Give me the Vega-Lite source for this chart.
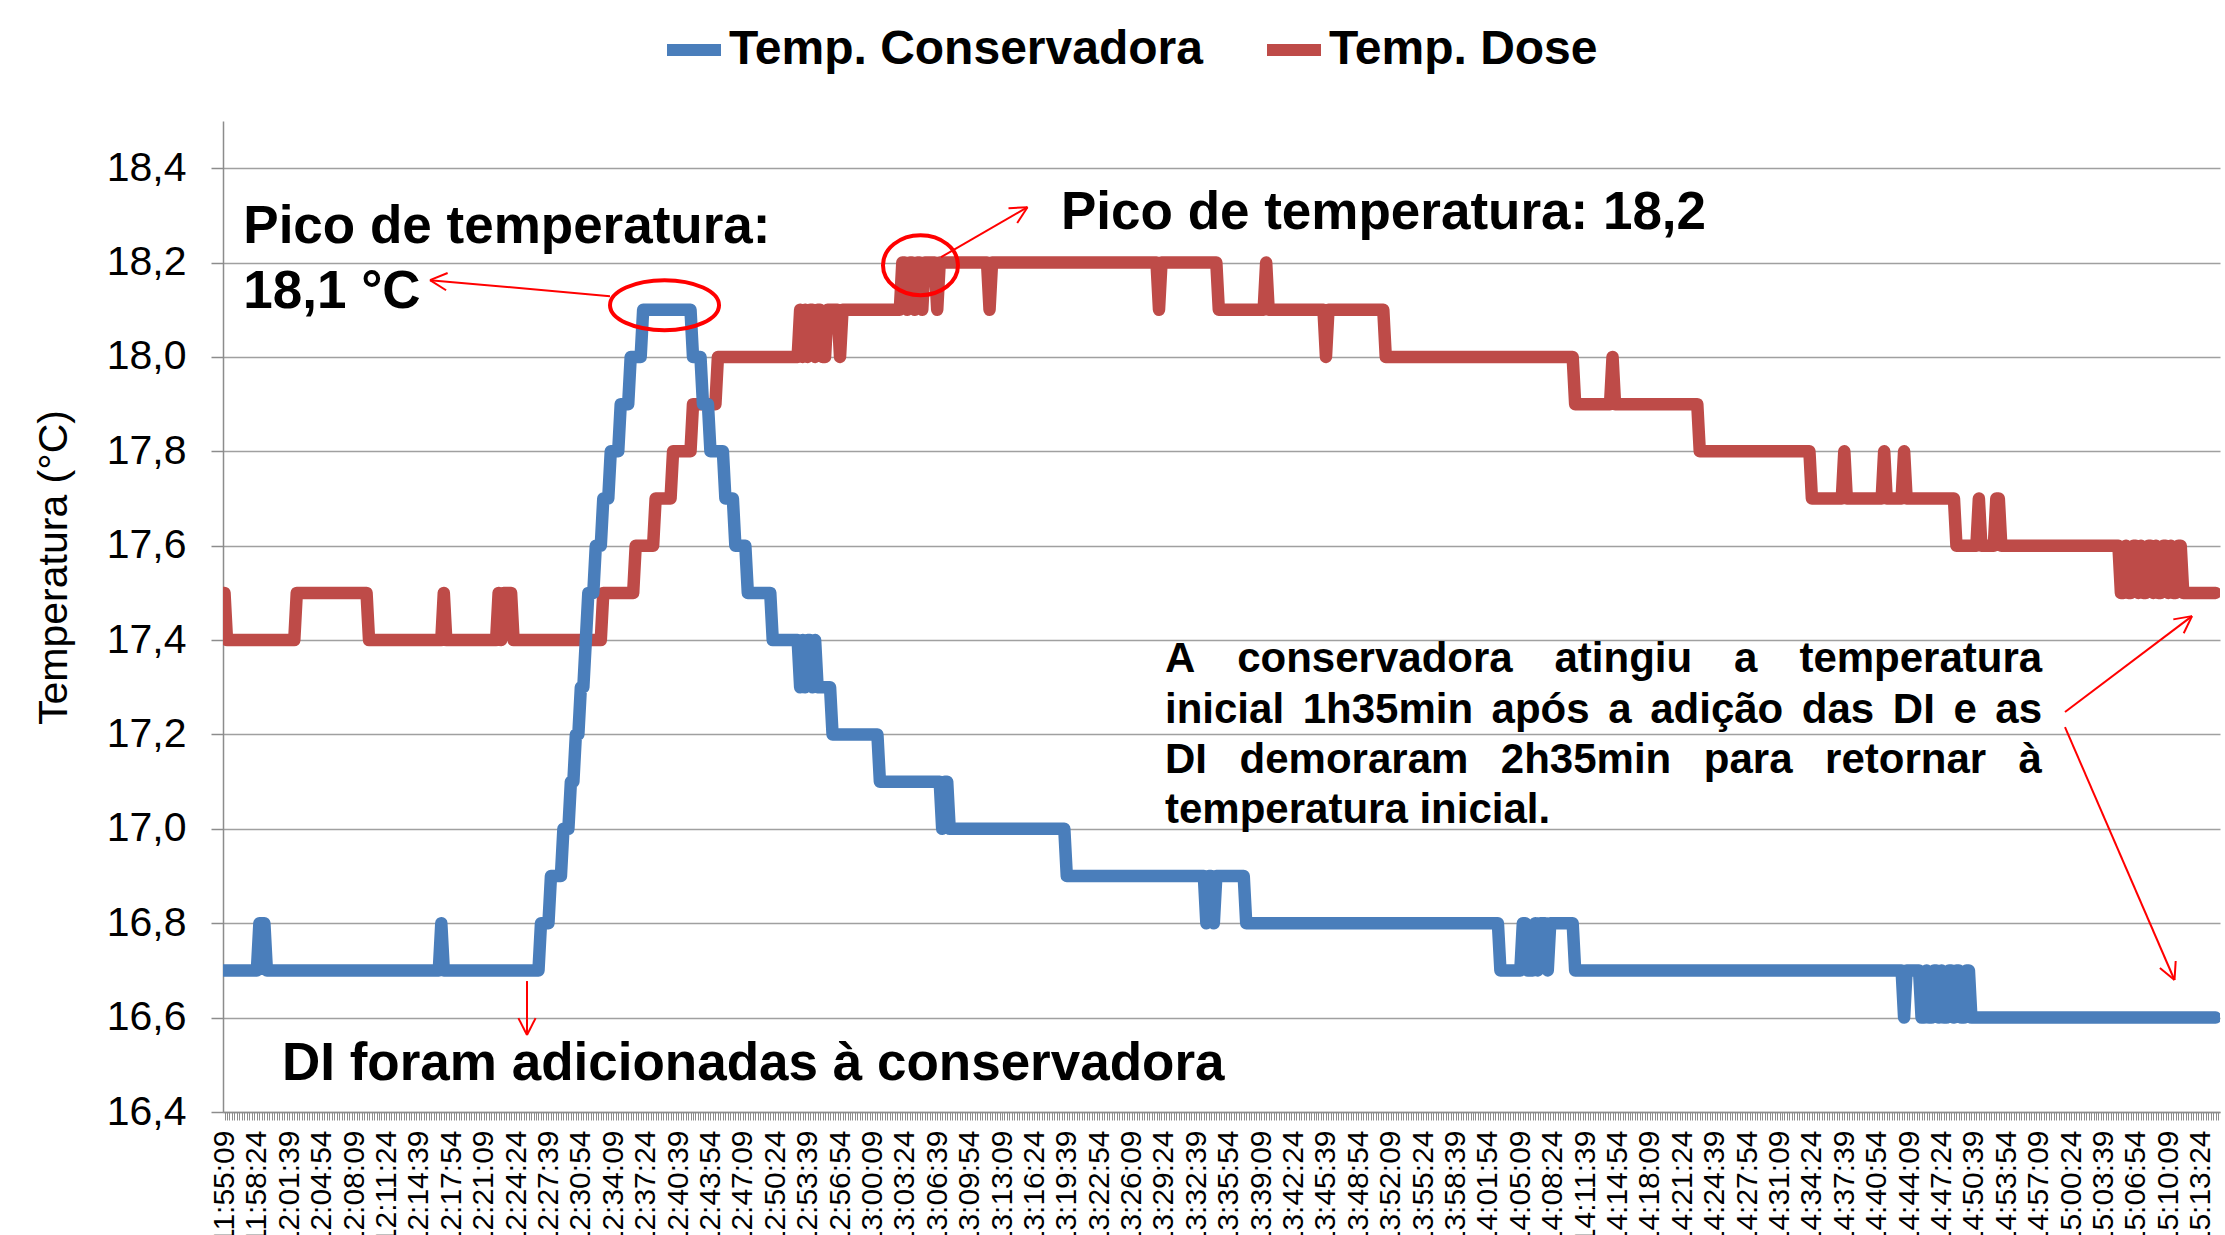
{
  "$schema": "https://vega.github.io/schema/vega-lite/v6.json",
  "width": 1997,
  "height": 991,
  "autosize": {"type": "none"},
  "padding": {"left": 223, "top": 121, "right": 5, "bottom": 123},
  "background": "white",
  "config": {"view": {"stroke": null}, "font": "Liberation Sans"},
  "datasets": {
    "dose": [
      {"i":0,"v":17.5},{"i":1,"v":17.4},{"i":28,"v":17.4},{"i":29,"v":17.5},{"i":57,"v":17.5},{"i":58,"v":17.4},{"i":87,"v":17.4},{"i":88,"v":17.5},{"i":89,"v":17.4},{"i":109,"v":17.4},{"i":110,"v":17.5},{"i":111,"v":17.4},{"i":112,"v":17.5},{"i":115,"v":17.5},{"i":116,"v":17.4},{"i":151,"v":17.4},{"i":152,"v":17.5},{"i":164,"v":17.5},{"i":165,"v":17.6},{"i":172,"v":17.6},{"i":173,"v":17.7},{"i":179,"v":17.7},{"i":180,"v":17.8},{"i":187,"v":17.8},{"i":188,"v":17.9},{"i":197,"v":17.9},{"i":198,"v":18.0},{"i":230,"v":18.0},{"i":231,"v":18.1},{"i":232,"v":18.0},{"i":233,"v":18.1},{"i":234,"v":18.0},{"i":235,"v":18.1},{"i":236,"v":18.1},{"i":237,"v":18.0},{"i":238,"v":18.1},{"i":239,"v":18.1},{"i":240,"v":18.0},{"i":241,"v":18.0},{"i":242,"v":18.1},{"i":246,"v":18.1},{"i":247,"v":18.0},{"i":248,"v":18.1},{"i":271,"v":18.1},{"i":272,"v":18.2},{"i":273,"v":18.2},{"i":274,"v":18.1},{"i":275,"v":18.2},{"i":276,"v":18.2},{"i":277,"v":18.1},{"i":278,"v":18.2},{"i":279,"v":18.2},{"i":280,"v":18.1},{"i":281,"v":18.2},{"i":285,"v":18.2},{"i":286,"v":18.1},{"i":287,"v":18.2},{"i":306,"v":18.2},{"i":307,"v":18.1},{"i":308,"v":18.2},{"i":374,"v":18.2},{"i":375,"v":18.1},{"i":376,"v":18.2},{"i":398,"v":18.2},{"i":399,"v":18.1},{"i":417,"v":18.1},{"i":418,"v":18.2},{"i":419,"v":18.1},{"i":441,"v":18.1},{"i":442,"v":18.0},{"i":443,"v":18.1},{"i":465,"v":18.1},{"i":466,"v":18.0},{"i":541,"v":18.0},{"i":542,"v":17.9},{"i":556,"v":17.9},{"i":557,"v":18.0},{"i":558,"v":17.9},{"i":591,"v":17.9},{"i":592,"v":17.8},{"i":636,"v":17.8},{"i":637,"v":17.7},{"i":649,"v":17.7},{"i":650,"v":17.8},{"i":651,"v":17.7},{"i":665,"v":17.7},{"i":666,"v":17.8},{"i":667,"v":17.7},{"i":673,"v":17.7},{"i":674,"v":17.8},{"i":675,"v":17.7},{"i":694,"v":17.7},{"i":695,"v":17.6},{"i":703,"v":17.6},{"i":704,"v":17.7},{"i":705,"v":17.6},{"i":710,"v":17.6},{"i":711,"v":17.7},{"i":712,"v":17.7},{"i":713,"v":17.6},{"i":760,"v":17.6},{"i":761,"v":17.5},{"i":762,"v":17.5},{"i":763,"v":17.6},{"i":764,"v":17.5},{"i":765,"v":17.5},{"i":766,"v":17.6},{"i":767,"v":17.6},{"i":768,"v":17.5},{"i":769,"v":17.6},{"i":770,"v":17.5},{"i":771,"v":17.5},{"i":772,"v":17.6},{"i":773,"v":17.6},{"i":774,"v":17.5},{"i":775,"v":17.6},{"i":776,"v":17.5},{"i":777,"v":17.5},{"i":778,"v":17.6},{"i":779,"v":17.6},{"i":780,"v":17.5},{"i":781,"v":17.6},{"i":782,"v":17.5},{"i":783,"v":17.5},{"i":784,"v":17.6},{"i":785,"v":17.6},{"i":786,"v":17.5},{"i":799,"v":17.5}
    ],
    "conservadora": [
      {"i":0,"v":16.7},{"i":13,"v":16.7},{"i":14,"v":16.8},{"i":16,"v":16.8},{"i":17,"v":16.7},{"i":86,"v":16.7},{"i":87,"v":16.8},{"i":88,"v":16.7},{"i":126,"v":16.7},{"i":127,"v":16.8},{"i":130,"v":16.8},{"i":131,"v":16.9},{"i":135,"v":16.9},{"i":136,"v":17.0},{"i":138,"v":17.0},{"i":139,"v":17.1},{"i":140,"v":17.1},{"i":141,"v":17.2},{"i":142,"v":17.2},{"i":143,"v":17.3},{"i":144,"v":17.3},{"i":145,"v":17.4},{"i":146,"v":17.5},{"i":148,"v":17.5},{"i":149,"v":17.6},{"i":151,"v":17.6},{"i":152,"v":17.7},{"i":154,"v":17.7},{"i":155,"v":17.8},{"i":158,"v":17.8},{"i":159,"v":17.9},{"i":162,"v":17.9},{"i":163,"v":18.0},{"i":167,"v":18.0},{"i":168,"v":18.1},{"i":187,"v":18.1},{"i":188,"v":18.0},{"i":191,"v":18.0},{"i":192,"v":17.9},{"i":194,"v":17.9},{"i":195,"v":17.8},{"i":200,"v":17.8},{"i":201,"v":17.7},{"i":204,"v":17.7},{"i":205,"v":17.6},{"i":209,"v":17.6},{"i":210,"v":17.5},{"i":219,"v":17.5},{"i":220,"v":17.4},{"i":230,"v":17.4},{"i":231,"v":17.3},{"i":232,"v":17.4},{"i":233,"v":17.3},{"i":234,"v":17.4},{"i":235,"v":17.4},{"i":236,"v":17.3},{"i":237,"v":17.4},{"i":238,"v":17.3},{"i":243,"v":17.3},{"i":244,"v":17.2},{"i":262,"v":17.2},{"i":263,"v":17.1},{"i":287,"v":17.1},{"i":288,"v":17.0},{"i":289,"v":17.1},{"i":290,"v":17.1},{"i":291,"v":17.0},{"i":337,"v":17.0},{"i":338,"v":16.9},{"i":393,"v":16.9},{"i":394,"v":16.8},{"i":395,"v":16.9},{"i":396,"v":16.9},{"i":397,"v":16.8},{"i":398,"v":16.9},{"i":409,"v":16.9},{"i":410,"v":16.8},{"i":511,"v":16.8},{"i":512,"v":16.7},{"i":520,"v":16.7},{"i":521,"v":16.8},{"i":522,"v":16.8},{"i":523,"v":16.7},{"i":525,"v":16.7},{"i":526,"v":16.8},{"i":527,"v":16.7},{"i":528,"v":16.8},{"i":530,"v":16.8},{"i":531,"v":16.7},{"i":532,"v":16.8},{"i":541,"v":16.8},{"i":542,"v":16.7},{"i":673,"v":16.7},{"i":674,"v":16.6},{"i":675,"v":16.7},{"i":680,"v":16.7},{"i":681,"v":16.6},{"i":682,"v":16.6},{"i":683,"v":16.7},{"i":684,"v":16.6},{"i":685,"v":16.6},{"i":686,"v":16.7},{"i":687,"v":16.7},{"i":688,"v":16.6},{"i":689,"v":16.7},{"i":690,"v":16.6},{"i":691,"v":16.6},{"i":692,"v":16.7},{"i":693,"v":16.7},{"i":694,"v":16.6},{"i":695,"v":16.7},{"i":696,"v":16.7},{"i":697,"v":16.6},{"i":698,"v":16.6},{"i":699,"v":16.7},{"i":700,"v":16.7},{"i":701,"v":16.6},{"i":799,"v":16.6}
    ],
    "setas": [
      {"i":154.69,"v":18.1288,"i2":82.46,"v2":18.1627},
      {"i":82.46,"v":18.1627,"i2":88.92,"v2":18.1413},
      {"i":82.46,"v":18.1627,"i2":89.53,"v2":18.1778},
      {"i":287.52,"v":18.2114,"i2":322.23,"v2":18.3174},
      {"i":322.23,"v":18.3174,"i2":314.61,"v2":18.3153},
      {"i":322.23,"v":18.3174,"i2":318.10,"v2":18.2837},
      {"i":121.39,"v":16.6775,"i2":121.39,"v2":16.5631},
      {"i":121.39,"v":16.5631,"i2":124.84,"v2":16.5989},
      {"i":121.39,"v":16.5631,"i2":117.94,"v2":16.5989},
      {"i":738.56,"v":17.2475,"i2":789.53,"v2":17.4508},
      {"i":789.53,"v":17.4508,"i2":782.02,"v2":17.4439},
      {"i":789.53,"v":17.4508,"i2":786.20,"v2":17.4146},
      {"i":738.56,"v":17.2157,"i2":782.50,"v2":16.6797},
      {"i":782.50,"v":16.6797,"i2":782.99,"v2":16.7199},
      {"i":782.50,"v":16.6797,"i2":776.65,"v2":16.7053}
    ],
    "rotulos": [
      {"i":7.54,"v":18.2411,"t":"Pico de temperatura:"},
      {"i":7.54,"v":18.1034,"t":"18,1 °C"},
      {"i":335.67,"v":18.2708,"t":"Pico de temperatura: 18,2"},
      {"i":23.07,"v":16.4678,"t":"DI foram adicionadas à conservadora"}
    ],
    "nota": [
      {"i":377.41,"v":17.3322,"t":"A"},{"i":406.38,"v":17.3322,"t":"conservadora"},{"i":533.71,"v":17.3322,"t":"atingiu"},{"i":605.78,"v":17.3322,"t":"a"},{"i":631.98,"v":17.3322,"t":"temperatura"},
      {"i":377.41,"v":17.2248,"t":"inicial"},{"i":432.66,"v":17.2248,"t":"1h35min"},{"i":508.47,"v":17.2248,"t":"após"},{"i":555.26,"v":17.2248,"t":"a"},{"i":572.11,"v":17.2248,"t":"adição"},{"i":632.95,"v":17.2248,"t":"das"},{"i":669.46,"v":17.2248,"t":"DI"},{"i":693.78,"v":17.2248,"t":"e"},{"i":710.59,"v":17.2248,"t":"as"},
      {"i":377.41,"v":17.1176,"t":"DI"},{"i":407.34,"v":17.1176,"t":"demoraram"},{"i":512.16,"v":17.1176,"t":"2h35min"},{"i":593.62,"v":17.1176,"t":"para"},{"i":642.30,"v":17.1176,"t":"retornar"},{"i":719.94,"v":17.1176,"t":"à"},
      {"i":377.41,"v":17.0117,"t":"temperatura inicial."}
    ],
    "elipse1": [{"i":176.57,"v":18.1097}],
    "elipse2": [{"i":279.29,"v":18.1945}]
  },
  "encoding": {
    "x": {
      "field": "i", "type": "quantitative",
      "scale": {"domain": [-0.602, 800.76], "nice": false, "zero": false},
      "axis": {
        "title": null, "tickCount": 800, "grid": false,
        "labelExpr": "datum.value % 13 === 0 ? timeFormat(datetime(2000, 0, 1, 11, 55, 9 + datum.value * 15), '%H:%M:%S') : ''",
        "labelAngle": 270, "labelFontSize": 30, "labelFont": "Liberation Sans", "labelColor": "#000000",
        "labelPadding": 10, "labelOverlap": false, "labelFlush": false, "labelBound": false,
        "tickSize": 8, "tickColor": "#8C8C8C", "tickWidth": 1,
        "domainColor": "#8C8C8C", "domainWidth": 1.5
      }
    },
    "y": {
      "field": "v", "type": "quantitative",
      "scale": {"domain": [16.4, 18.5], "nice": false, "zero": false},
      "axis": {
        "title": "Temperatura (°C)",
        "values": [16.4, 16.6, 16.8, 17.0, 17.2, 17.4, 17.6, 17.8, 18.0, 18.2, 18.4],
        "labelExpr": "replace(format(datum.value, '.1f'), '.', ',')",
        "labelFontSize": 41, "labelFont": "Liberation Sans", "labelColor": "#000000", "labelPadding": 25,
        "tickSize": 12, "tickColor": "#8C8C8C", "tickWidth": 1.5,
        "domainColor": "#8C8C8C", "domainWidth": 1.5,
        "grid": true, "gridColor": "#A0A0A0", "gridWidth": 1.5,
        "titleFont": "Liberation Sans", "titleFontSize": 41, "titleFontWeight": "normal", "titleColor": "#000000",
        "titleAngle": 270, "titleX": -157, "titleY": 446, "titleAlign": "center", "titleBaseline": "alphabetic"
      }
    }
  },
  "layer": [
    {
      "data": {"name": "dose"},
      "mark": {"type": "line", "strokeWidth": 12.5, "strokeCap": "round", "strokeJoin": "round", "clip": true},
      "encoding": {
        "color": {
          "datum": "Temp. Dose", "type": "nominal",
          "scale": {"domain": ["Temp. Conservadora", "Temp. Dose"], "range": ["#4A7EBB", "#BE4B48"]},
          "legend": {
            "orient": "none", "legendX": 438, "legendY": -104, "direction": "horizontal", "title": null,
            "symbolType": "stroke", "symbolStrokeWidth": 12, "symbolSize": 2916,
            "labelFontSize": 48, "labelFontWeight": "bold", "labelFont": "Liberation Sans", "labelColor": "#000000",
            "labelOffset": 2, "columnPadding": 40, "padding": 0, "labelLimit": 2000
          }
        }
      }
    },
    {
      "data": {"name": "conservadora"},
      "mark": {"type": "line", "strokeWidth": 12.5, "strokeCap": "round", "strokeJoin": "round", "clip": true},
      "encoding": {
        "color": {"datum": "Temp. Conservadora", "type": "nominal"}
      }
    },
    {
      "data": {"name": "setas"},
      "mark": {"type": "rule", "color": "#FF0000", "strokeWidth": 2},
      "encoding": {
        "x2": {"field": "i2"},
        "y2": {"field": "v2"}
      }
    },
    {
      "data": {"name": "elipse1"},
      "mark": {"type": "point", "shape": "M-1,0A1,0.459,0,1,1,1,0A1,0.459,0,1,1,-1,0Z", "size": 11881, "filled": false, "stroke": "#FF0000", "strokeWidth": 4, "opacity": 1}
    },
    {
      "data": {"name": "elipse2"},
      "mark": {"type": "point", "shape": "M-1,0A1,0.8,0,1,1,1,0A1,0.8,0,1,1,-1,0Z", "size": 5625, "filled": false, "stroke": "#FF0000", "strokeWidth": 4, "opacity": 1}
    },
    {
      "data": {"name": "rotulos"},
      "mark": {"type": "text", "font": "Liberation Sans", "fontSize": 53, "fontWeight": "bold", "align": "left", "baseline": "alphabetic", "color": "#000000"},
      "encoding": {"text": {"field": "t"}}
    },
    {
      "data": {"name": "nota"},
      "mark": {"type": "text", "font": "Liberation Sans", "fontSize": 42, "fontWeight": "bold", "align": "left", "baseline": "alphabetic", "color": "#000000"},
      "encoding": {"text": {"field": "t"}}
    }
  ]
}
